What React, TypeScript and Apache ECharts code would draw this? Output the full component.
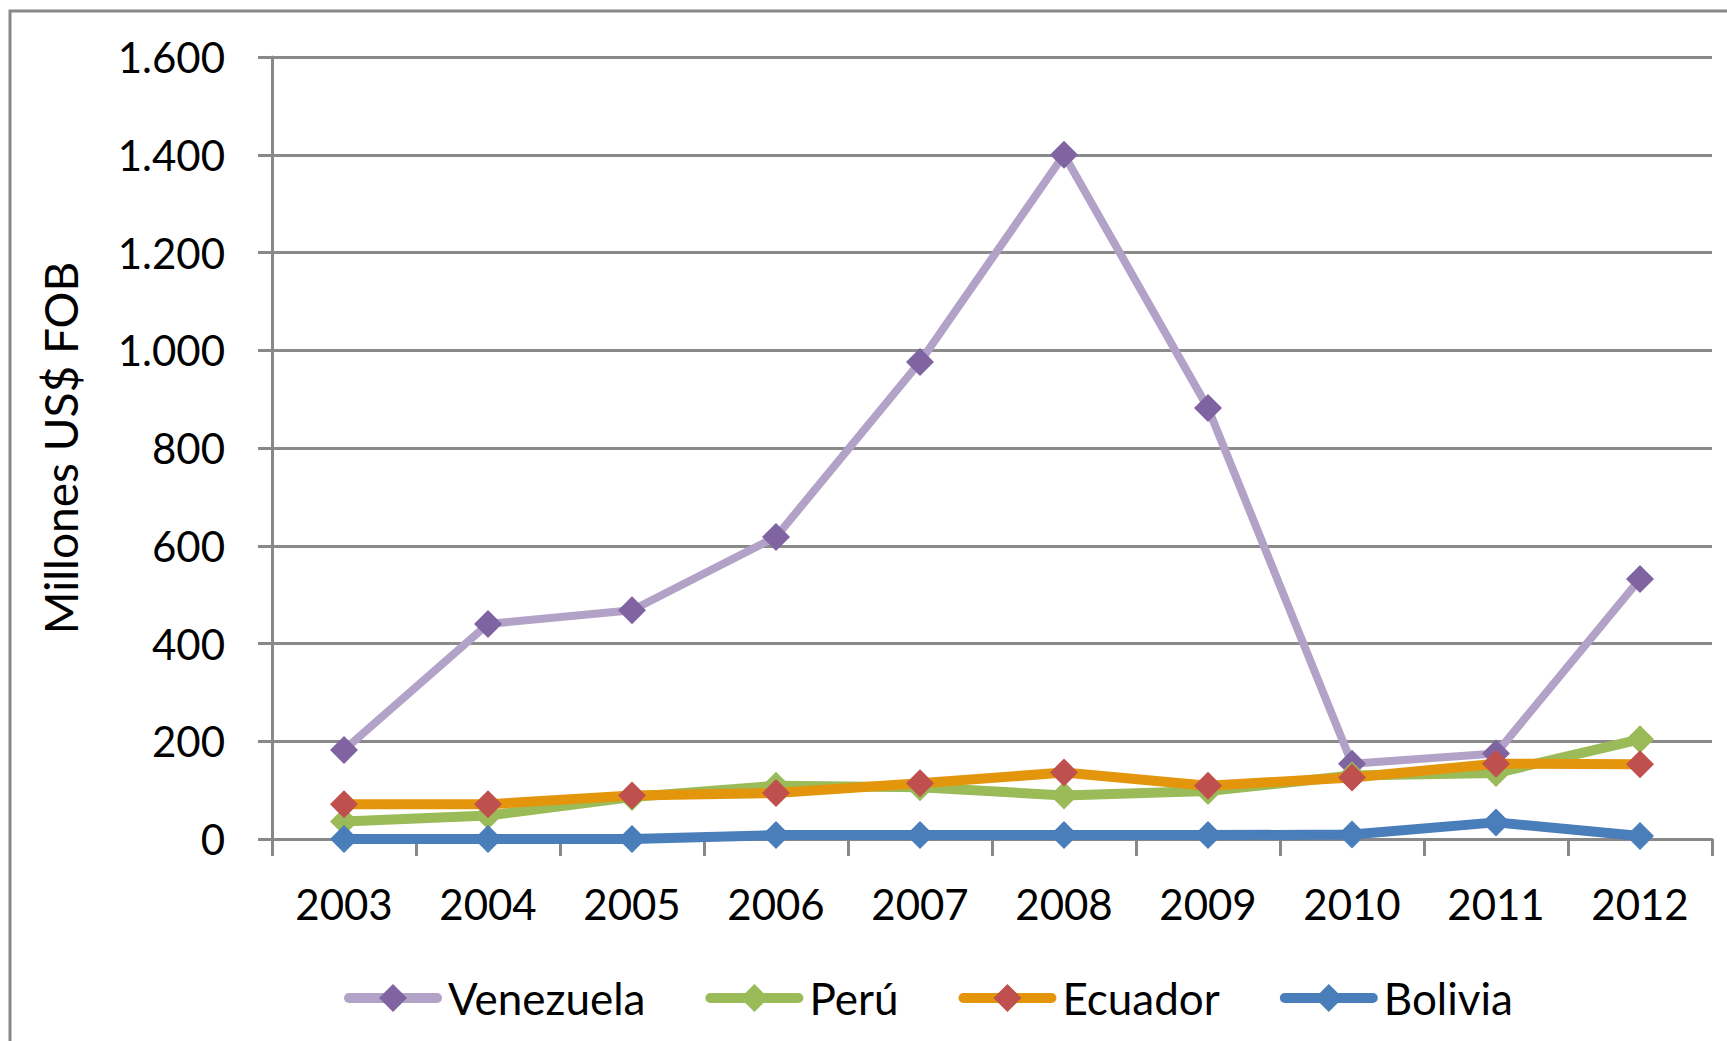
import React, { useEffect, useRef } from "react";
import * as echarts from "echarts";

const years = ["2003", "2004", "2005", "2006", "2007", "2008", "2009", "2010", "2011", "2012"];
const venezuela = [182, 440, 468, 618, 976, 1400, 882, 154, 175, 532];
const peru = [36, 48, 86, 109, 106, 89, 98, 130, 135, 204];
const ecuador = [71, 71, 89, 94, 114, 136, 109, 126, 154, 153];
const bolivia = [0, 0, 0, 8, 8, 8, 8, 9, 34, 6];
const seriesNames = ["Venezuela", "Perú", "Ecuador", "Bolivia"];
const lineColors = ["#B3A2C7", "#9BBB59", "#E3960C", "#4A7EBB"];
const markerColors = ["#8064A2", "#9BBB59", "#C0504D", "#4A7EBB"];
const lineWidths = [8, 10, 10, 10];
const yTicks = { min: 0, max: 1600, interval: 200 };
const yAxisTitle = "Millones US$ FOB";

const FONT = "Lato";

function fmt(v: number): string {
  return String(v).replace(/\B(?=(\d{3})+(?!\d))/g, ".");
}

export default function App() {
  const ref = useRef<HTMLDivElement>(null);
  useEffect(() => {
    if (!ref.current) return;
    const chart = echarts.init(ref.current, null, { renderer: "svg" });
    const allData = [venezuela, peru, ecuador, bolivia];
    chart.setOption({
      animation: false,
      backgroundColor: "#ffffff",
      graphic: [
        {
          type: "rect",
          shape: { x: 10, y: 11, width: 1900, height: 1300 },
          style: { fill: "none", stroke: "#888888", lineWidth: 3 },
          z: -10,
          silent: true,
        },
      ],
      grid: { left: 272, top: 57, width: 1440, height: 782, containLabel: false },
      legend: {
        left: 344,
        top: 976,
        padding: 0,
        itemWidth: 88,
        itemHeight: 35,
        itemGap: 60,
        data: seriesNames,
        lineStyle: { width: 10, cap: "round" },
        textStyle: { fontFamily: FONT, fontSize: 44, color: "#000000", padding: [0, 0, 0, 6] },
      },
      xAxis: {
        type: "category",
        data: years,
        boundaryGap: true,
        axisLine: { lineStyle: { color: "#888888", width: 3 } },
        axisTick: { show: true, length: 17, lineStyle: { color: "#888888", width: 3 } },
        axisLabel: { fontFamily: FONT, fontSize: 42, color: "#000000", margin: 44 },
        splitLine: { show: false },
      },
      yAxis: {
        type: "value",
        min: yTicks.min,
        max: yTicks.max,
        interval: yTicks.interval,
        name: yAxisTitle,
        nameLocation: "middle",
        nameRotate: 90,
        nameGap: 189,
        nameTextStyle: { fontFamily: FONT, fontSize: 46, color: "#000000" },
        axisLine: { show: true, lineStyle: { color: "#888888", width: 3 } },
        axisTick: { show: true, length: 14, lineStyle: { color: "#888888", width: 3 } },
        axisLabel: {
          fontFamily: FONT,
          fontSize: 42,
          color: "#000000",
          margin: 47,
          formatter: (v: number) => fmt(v),
        },
        splitLine: { show: true, lineStyle: { color: "#8a8a8a", width: 3 } },
      },
      series: seriesNames.map((name, i) => ({
        name,
        type: "line",
        data: allData[i],
        symbol: "diamond",
        symbolSize: 28,
        showSymbol: true,
        lineStyle: { color: lineColors[i], width: lineWidths[i], cap: "round", join: "round" },
        itemStyle: { color: markerColors[i] },
        z: 2 + i,
      })),
    });
    return () => chart.dispose();
  }, []);
  return (
    <div
      ref={ref}
      style={{ position: "fixed", left: 0, top: 0, width: 1727, height: 1041, background: "#fff" }}
    />
  );
}
